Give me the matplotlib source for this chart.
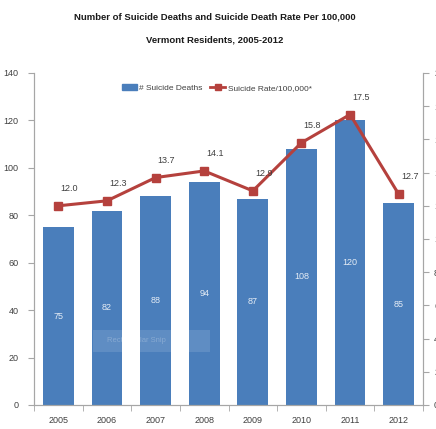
import matplotlib
matplotlib.use("Agg")
import matplotlib.pyplot as plt
from matplotlib.patches import Rectangle, Patch
from matplotlib.lines import Line2D
import numpy as np

plt.rcParams['font.family'] = ['Liberation Sans', 'DejaVu Sans']

years = ["2005", "2006", "2007", "2008", "2009", "2010", "2011", "2012"]
deaths = [75, 82, 88, 94, 87, 108, 120, 85]
rates = [12.0, 12.3, 13.7, 14.1, 12.9, 15.8, 17.5, 12.7]
left_ticks = [0, 20, 40, 60, 80, 100, 120, 140]
right_ticks = [0, 2, 4, 6, 8, 10, 12, 14, 16, 18, 20]

bar_color = "#4a7ebb"
line_color = "#b5413d"
axis_gray = "#a6a6a6"
text_color = "#404040"

fig = plt.figure(figsize=(4.36, 4.29), dpi=100)
ax = fig.add_axes([34/436, 1 - 405/429, (423 - 34)/436, (405 - 73)/429])
ax2 = ax.twinx()

x = np.arange(len(years))
ax.bar(x, deaths, width=0.63, color=bar_color, zorder=2)
for xi, v in zip(x, deaths):
    ax.text(xi, v / 2, str(v), ha="center", va="center", color="white",
            fontsize=6.5, alpha=0.85)

ax.set_xlim(-0.5, len(years) - 0.5)
ax.set_ylim(0, 140)
ax.set_yticks(left_ticks)
ax.set_yticklabels([str(t) for t in left_ticks], fontsize=6.5, color=text_color)
ax.set_xticks(x)
ax.set_xticklabels(years, fontsize=6.5, color=text_color)
ax.tick_params(axis="x", length=0, pad=8)
ax.set_xticks(np.arange(-0.5, len(years) + 0.5, 1), minor=True)
ax.tick_params(axis="x", which="minor", length=4, color=axis_gray, direction="out")
ax.tick_params(axis="y", length=4, color=axis_gray, pad=7)

ax2.plot(x, rates, color=line_color, lw=2.2, marker="s", markersize=6,
         markerfacecolor=line_color, markeredgecolor=line_color, zorder=3)
ax2.set_ylim(0, 20)
ax2.set_yticks(right_ticks)
ax2.set_yticklabels([str(t) for t in right_ticks], fontsize=6.5, color=text_color)
ax2.tick_params(axis="y", length=4, color=axis_gray, pad=4)
for xi, r in zip(x, rates):
    ax2.annotate(f"{r:.1f}", (xi, r), xytext=(11, 13), textcoords="offset pixels",
                 ha="center", va="bottom", fontsize=6.5, color=text_color)

for a in (ax, ax2):
    a.spines["top"].set_visible(False)
    for s in ("left", "right", "bottom"):
        a.spines[s].set_color(axis_gray)
        a.spines[s].set_linewidth(0.8)

handles = [Patch(facecolor=bar_color, edgecolor=bar_color),
           Line2D([0], [0], color=line_color, lw=2, marker="s", markersize=4)]
ax.legend(handles, ["# Suicide Deaths", "Suicide Rate/100,000*"],
          loc="upper center", bbox_to_anchor=(0.47, 0.99), ncol=2,
          frameon=False, fontsize=6, handlelength=1.8, handletextpad=0.3,
          columnspacing=0.9, labelcolor=text_color)

# Faint snipping-tool overlay box
fig.patches.append(Rectangle((93/436, 1 - 352/429), 117/436, 22/429,
                             transform=fig.transFigure, facecolor="white",
                             edgecolor="none", alpha=0.12, zorder=5))
fig.text(107/436, 1 - 341/429, "Rectangular Snip", fontsize=5.5, color="white",
         alpha=0.25, va="center", ha="left", zorder=6)

fig.text(215/436, 1 - 17/429, "Number of Suicide Deaths and Suicide Death Rate Per 100,000",
         ha="center", va="center", fontsize=6.8, fontweight="bold", color="#1a1a1a")
fig.text(215/436, 1 - 40/429, "Vermont Residents, 2005-2012",
         ha="center", va="center", fontsize=6.8, fontweight="bold", color="#1a1a1a")

fig.savefig("out.png", dpi=100)
